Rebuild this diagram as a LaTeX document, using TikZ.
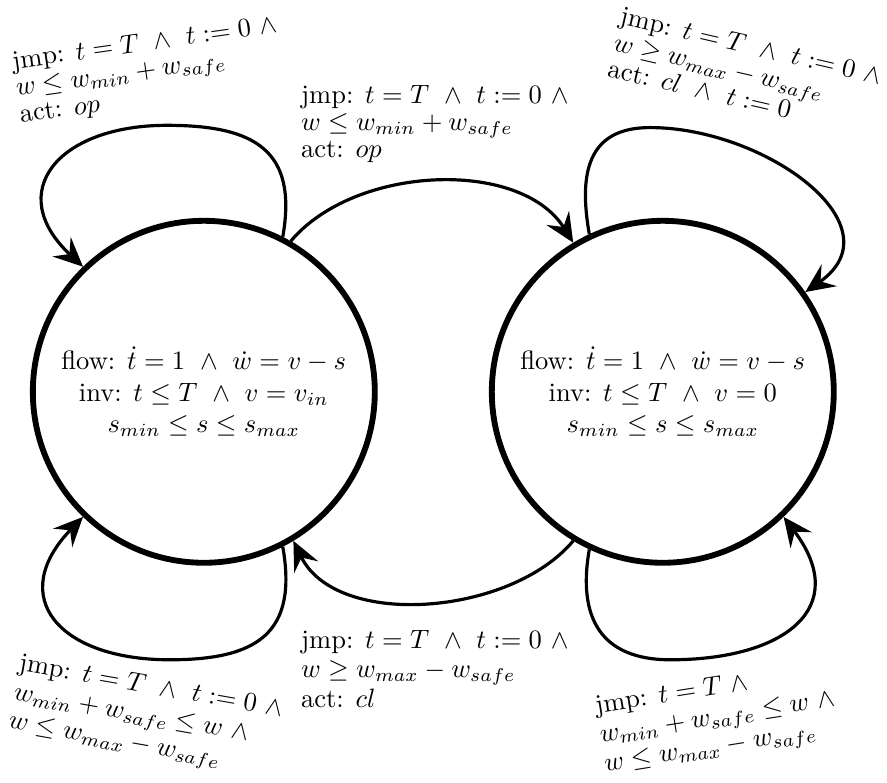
\documentclass[tikz,border=0pt]{standalone}
\usepackage{amsmath,amssymb}
\usetikzlibrary{arrows.meta}
\tikzset{
  loc/.style={circle,draw,line width=2.2pt,minimum size=4.53cm,inner sep=0pt,align=center},
  jmp/.style={line width=1.2pt,-{Stealth[length=11pt,width=10pt,inset=4pt]}},
  lbl/.style={align=left,inner sep=0pt,font=\linespread{0.85}\selectfont},
  lblb/.style={align=left,inner sep=0pt,font=\linespread{0.92}\selectfont}
}
\begin{document}
\begin{tikzpicture}
\useasboundingbox (0,0) rectangle (11.75,10.36);
\node[loc] (L) at (2.70,5.17) {flow: $\dot t = 1 \ \wedge\ \dot w = v - s$\\ inv: $t \leq T \ \wedge\ v = v_{in}$\\ $s_{min} \leq s \leq s_{max}$};
\node[loc] (R) at (8.78,5.17) {flow: $\dot t = 1 \ \wedge\ \dot w = v - s$\\ inv: $t \leq T \ \wedge\ v = 0$\\ $s_{min} \leq s \leq s_{max}$};
\coordinate (tl) at (2.21,8.70);
\coordinate (tr) at (8.61,8.67);
\coordinate (bl) at (2.25,1.62);
\coordinate (br) at (8.88,1.62);
\draw[jmp] (L.63) to[out=80,in=0,looseness=1.4] (tl) to[out=180,in=137,looseness=1.7] (L.134);
\draw[jmp] (L.60) to[out=50,in=122,looseness=0.9] (R.121);
\draw[jmp] (R.115) to[out=100,in=180,looseness=1.3] (tr) to[out=0,in=35,looseness=1.3] (R.35);
\draw[jmp] (L.-63) to[out=-80,in=0,looseness=1.4] (bl) to[out=180,in=-134,looseness=1.7] (L.-134);
\draw[jmp] (R.-121) to[out=-130,in=-64,looseness=0.9] (L.-59);
\draw[jmp] (R.-115) to[out=-100,in=180,looseness=1.3] (br) to[out=0,in=-53,looseness=1.6] (R.-46);
\node[lbl,rotate=8] (tlL) at (1.97,9.42) {jmp: $t = T \ \wedge\ t := 0 \ \wedge$\\ $w \leq w_{min} + w_{safe}$\\ act: $op$};
\node[lbl] (tmL) at (5.76,8.72) {jmp: $t = T \ \wedge\ t := 0 \ \wedge$\\ $w \leq w_{min} + w_{safe}$\\ act: $op$};
\node[lbl,rotate=-13] (trL) at (9.87,9.41) {jmp: $t = T \ \wedge\ t := 0 \ \wedge$\\ $w \geq w_{max} - w_{safe}$\\ act: $cl \ \wedge\ t := 0$};
\node[lblb] (bmL) at (5.76,1.50) {jmp: $t = T \ \wedge\ t := 0 \ \wedge$\\ $w \geq w_{max} - w_{safe}$\\ act: $cl$};
\node[lblb,rotate=-10] (blL) at (1.93,0.86) {jmp: $t = T \ \wedge\ t := 0 \ \wedge$\\ $w_{min} + w_{safe} \leq w \ \wedge$\\ $w \leq w_{max} - w_{safe}$};
\node[lblb,rotate=9] (brL) at (9.51,0.84) {jmp: $t = T \ \wedge$\\ $w_{min} + w_{safe} \leq w \ \wedge$\\ $w \leq w_{max} - w_{safe}$};
\end{tikzpicture}
\end{document}
